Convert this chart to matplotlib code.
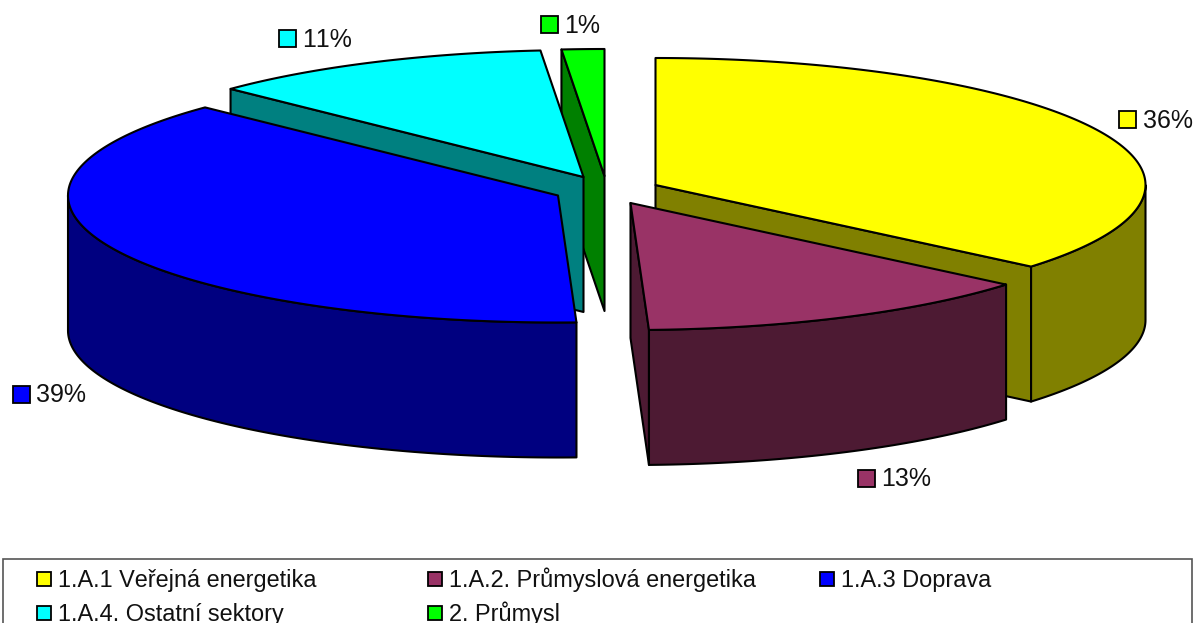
import numpy as np
import matplotlib
matplotlib.use('Agg')
import matplotlib.pyplot as plt
from matplotlib.patches import Polygon, Rectangle

plt.rcParams['font.family'] = ['Liberation Sans', 'DejaVu Sans']
plt.rcParams['text.kerning_factor'] = 6

# shares read from the slice edges, labels as printed on the chart
names = ['1.A.1 Veřejná energetika', '1.A.2. Průmyslová energetika', '1.A.3 Doprava',
         '1.A.4. Ostatní sektory', '2. Průmysl']
shares = [36.1, 13.3, 37.8, 11.4, 1.4]
pct_labels = ['36%', '13%', '39%', '11%', '1%']

top_colors = ['#ffff00', '#993366', '#0000ff', '#00ffff', '#00ff00']
side_colors = ['#808000', '#4d1a33', '#000080', '#008080', '#008000']

# pie apex of each exploded slice, pixels
centers = [(655.5, 185), (630.5, 203), (558, 195.5), (583.5, 177), (604.5, 176)]
label_pos = [(1127.5, 119.5), (866, 478), (21, 394), (287.5, 38.5), (549, 24.5)]
draw_order = [4, 3, 0, 2, 1]

RX, RY = 490, 127
DEPTH = 135

fig = plt.figure(figsize=(11.96, 6.23), dpi=100)
ax = fig.add_axes([0, 0, 1, 1])
ax.set_xlim(0, 1196)
ax.set_ylim(623, 0)
ax.axis('off')


def rim(cx, cy, t):
    # t in radians, clockwise from 12 o'clock
    return np.column_stack([cx + RX * np.sin(t), cy - RY * np.cos(t)])


def face(pts, color, z):
    ax.add_patch(Polygon(pts, closed=True, facecolor=color, edgecolor='black',
                         linewidth=1.5, joinstyle='round', zorder=z))


edges = np.cumsum([0] + shares) / sum(shares) * 2 * np.pi

for z, i in enumerate(draw_order):
    cx, cy = centers[i]
    t0, t1 = edges[i], edges[i + 1]
    apex = np.array([[cx, cy]])
    down = np.array([0, DEPTH])
    base = z * 10

    # radial walls, only the ones turned towards the viewer
    for t, show in ((t0, np.sin(t0) < -1e-6), (t1, np.sin(t1) > 1e-6)):
        if show:
            p = rim(cx, cy, np.array([t]))
            face(np.vstack([apex, p, p + down, apex + down]), side_colors[i], base + 1)

    # outer wall on the front half of the rim
    a, b = max(t0, np.pi / 2), min(t1, 3 * np.pi / 2)
    if b > a:
        arc = rim(cx, cy, np.linspace(a, b, 120))
        face(np.vstack([arc, arc[::-1] + down]), side_colors[i], base + 2)

    arc = rim(cx, cy, np.linspace(t0, t1, 200))
    face(np.vstack([apex, arc]), top_colors[i], base + 3)

# percentage labels with their small keys
for i, (x, y) in enumerate(label_pos):
    ax.add_patch(Rectangle((x - 8.5, y - 8.5), 17, 17, facecolor=top_colors[i], edgecolor='black',
                           linewidth=1.3, zorder=200))
    ax.text(x + 15, y + 8.5, pct_labels[i], fontsize=18, color='#111111', va='baseline', ha='left', zorder=200)

# legend, its frame runs off the bottom of the picture
ax.add_patch(Rectangle((3, 559), 1189, 80, facecolor='white', edgecolor='#555555',
                       linewidth=1.2, clip_on=True, zorder=150))
legend_pos = [(44, 578.5), (435, 578.5), (827, 578.5), (44, 613), (435, 613)]
for i, (x, y) in enumerate(legend_pos):
    ax.add_patch(Rectangle((x - 7, y - 7), 14, 14, facecolor=top_colors[i], edgecolor='black',
                           linewidth=1.3, zorder=200))
    ax.text(x + 14, y + 8, names[i], fontsize=16.9, color='#111111', va='baseline', ha='left', zorder=200)

fig.savefig('out.png', dpi=100)
